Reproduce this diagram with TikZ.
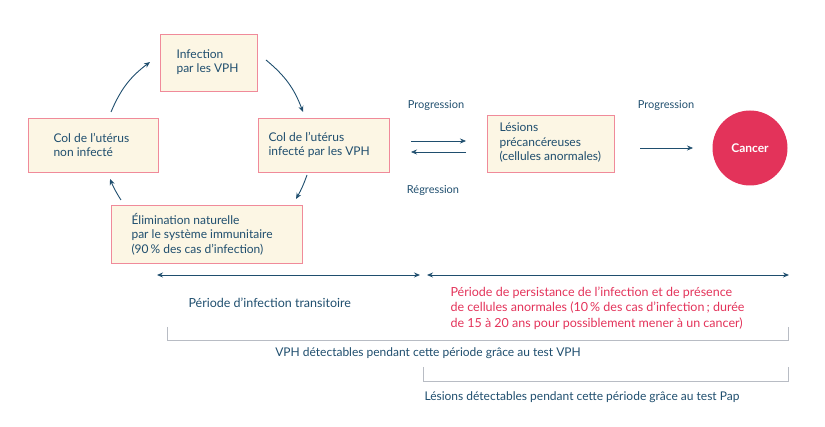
\documentclass[tikz,border=0pt]{standalone}
\usepackage{fontspec}
\setmainfont{Lato}
\usetikzlibrary{arrows.meta}
\definecolor{dblue}{HTML}{1F4E6E}
\definecolor{pinkc}{HTML}{E3335A}
\definecolor{boxf}{HTML}{FCF6E4}
\definecolor{boxb}{HTML}{F08A9A}
\definecolor{brk}{HTML}{B8BCC4}
\begin{document}
\begin{tikzpicture}[x=1pt,y=-1pt,
 txt/.style={text=dblue,font=\fontsize{12}{14.5}\selectfont,align=left},
 box/.style={draw=boxb,fill=boxf,line width=0.9pt,anchor=north west,inner sep=0},
 arr/.style={draw=dblue,line width=0.9pt,-{Stealth[length=6pt,width=5pt]}},
 dbl/.style={draw=dblue,line width=0.9pt,{Stealth[length=6pt,width=5pt]}-{Stealth[length=6pt,width=5pt]}},
 brkt/.style={draw=brk,line width=0.8pt}]
\useasboundingbox (0,0) rectangle (825,427);
% boxes
\path[box] (160,34) rectangle (257,91);
\node[txt,anchor=west] (inf) at (173,62) {Infection\\par les VPH};
\path[box] (28,118) rectangle (158,172);
\node[txt,anchor=west] (non) at (50,145) {Col de l’utérus\\non infecté};
\path[box] (258,118) rectangle (389,172);
\node[txt,anchor=west] (inf2) at (265,145) {Col de l’utérus\\infecté par les VPH};
\path[box] (111,205) rectangle (302,263);
\node[txt,anchor=west] (elim) at (128,234) {Élimination naturelle\\par le système immunitaire\\(90\,\% des cas d’infection)};
\path[box] (487,115) rectangle (614,172);
\node[txt,anchor=west] (les) at (496,143) {Lésions\\précancéreuses\\(cellules anormales)};
\node[circle,fill=pinkc,minimum size=75pt,inner sep=0,text=white,font=\fontsize{12}{14}\selectfont\bfseries] (can) at (750,148) {Cancer};
% cycle arrows
\coordinate (a1) at (111,112); \coordinate (a2) at (150,62);
\draw[arr] (a1) to[bend left=15] (a2);
\coordinate (b1) at (266,60); \coordinate (b2) at (303,112);
\draw[arr] (b1) to[bend left=15] (b2);
\coordinate (c1) at (307,175); \coordinate (c2) at (296,199);
\draw[arr] (c1) to[bend left=5] (c2);
\coordinate (d1) at (121,200); \coordinate (d2) at (110,179);
\draw[arr] (d1) to[bend left=5] (d2);
% progression
\node[txt,font=\fontsize{11}{13}\selectfont] (pr1) at (436,105) {Progression};
\node[txt,font=\fontsize{11}{13}\selectfont] (rg) at (433,190) {Régression};
\node[txt,font=\fontsize{11}{13}\selectfont] (pr2) at (666,105) {Progression};
\coordinate (p1) at (411,141); \coordinate (p2) at (466,141);
\draw[arr,line width=0.6pt] (p1) -- (p2);
\coordinate (q1) at (466,152); \coordinate (q2) at (411,152);
\draw[arr,line width=0.6pt] (q1) -- (q2);
\coordinate (r1) at (640,148); \coordinate (r2) at (693,148);
\draw[arr,line width=0.6pt] (r1) -- (r2);
% periods
\coordinate (t1) at (157,275); \coordinate (t2) at (420,275);
\draw[dbl] (t1) -- (t2);
\coordinate (u1) at (427,275); \coordinate (u2) at (789,275);
\draw[dbl] (u1) -- (u2);
\node[txt,anchor=west,font=\fontsize{12.5}{15}\selectfont] (trans) at (185,303) {Période d’infection transitoire};
\node[txt,text=pinkc,anchor=north west,font=\fontsize{12.5}{15.5}\selectfont] (pers) at (447,283) {Période de persistance de l’infection et de présence\\de cellules anormales (10\,\% des cas d’infection\,; durée\\de 15 à 20 ans pour possiblement mener à un cancer)};
% brackets
\draw[brkt] (167,327) -- (167,340) -- (788,340) -- (788,327);
\node[txt] (vph) at (428,353) {VPH détectables pendant cette période grâce au test VPH};
\draw[brkt] (423,367) -- (423,381) -- (788,381) -- (788,367);
\node[txt,anchor=west] (pap) at (421,397) {Lésions détectables pendant cette période grâce au test Pap};
\end{tikzpicture}
\end{document}
